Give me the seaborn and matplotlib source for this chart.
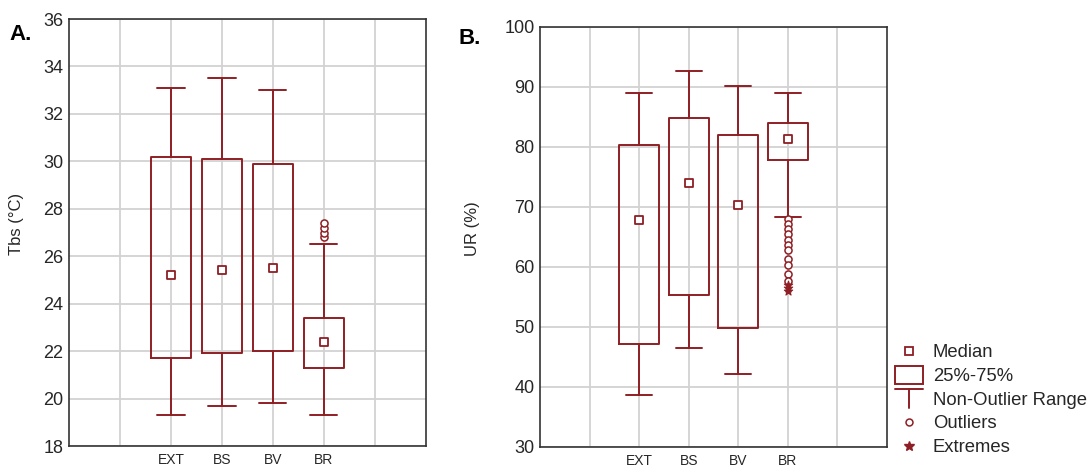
import numpy as np
import pandas as pd
import seaborn as sns
import matplotlib.pyplot as plt
from matplotlib.lines import Line2D
from matplotlib.patches import Rectangle
from matplotlib.legend_handler import HandlerBase

groups = ["EXT", "BS", "BV", "BR"]

# A. Tbs (°C) - box summaries
tbs_low = [19.3, 19.7, 19.8, 19.3]
tbs_q1 = [21.7, 21.9, 22.0, 21.3]
tbs_med = [25.2, 25.4, 25.5, 22.4]
tbs_q3 = [30.2, 30.1, 29.9, 23.4]
tbs_high = [33.1, 33.5, 33.0, 26.5]
tbs_outliers_br = [26.8, 27.0, 27.2, 27.4]
tbs_extremes_br = []

# B. UR (%)
ur_low = [38.6, 46.5, 42.2, 68.3]
ur_q1 = [47.1, 55.2, 49.8, 77.7]
ur_med = [67.7, 74.0, 70.2, 81.3]
ur_q3 = [80.3, 84.8, 82.0, 83.9]
ur_high = [88.9, 92.6, 90.1, 88.9]
ur_outliers_br = [67.9, 67.1, 66.2, 65.4, 64.5, 63.6, 62.7, 61.2, 60.2, 58.8, 57.6]
ur_extremes_br = [57.0, 56.4, 56.0]

RED = "#8e1f24"
GRID = "#d2d2d2"
TEXT = "#262626"

sns.set_theme(style="whitegrid")
plt.rcParams["font.family"] = ["Liberation Sans", "DejaVu Sans"]


def draw_panel(ax, low, q1, med, q3, high, outliers, extremes, ylim, yticks, ylabel):
    stats = [
        dict(whislo=lo, q1=a, med=m, q3=b, whishi=hi, label=g)
        for g, lo, a, m, b, hi in zip(groups, low, q1, med, q3, high)
    ]
    line = dict(color=RED, lw=1.4)
    ax.bxp(stats, positions=range(len(groups)), widths=0.8, capwidths=0.53,
           showfliers=False, boxprops=line, whiskerprops=line, capprops=line,
           medianprops=dict(visible=False), manage_ticks=False, zorder=2)

    # median squares
    med_df = pd.DataFrame({"x": range(len(groups)), "y": med})
    sns.scatterplot(data=med_df, x="x", y="y", marker="s", s=26, facecolor="white",
                    edgecolor=RED, linewidth=1.3, ax=ax, zorder=3)

    # outliers / extremes of BR
    if outliers:
        out_df = pd.DataFrame({"x": [3] * len(outliers), "y": outliers})
        sns.scatterplot(data=out_df, x="x", y="y", marker="o", s=26, facecolor="white",
                        edgecolor=RED, linewidth=1.1, ax=ax, zorder=3)
    if extremes:
        ext_df = pd.DataFrame({"x": [3] * len(extremes), "y": extremes})
        sns.scatterplot(data=ext_df, x="x", y="y", marker="*", s=40, color=RED,
                        edgecolor=RED, linewidth=0.8, ax=ax, zorder=3)

    ax.set_xlim(-2, 5)
    ax.set_ylim(*ylim)
    ax.set_yticks(yticks)
    ax.set_xticks(range(-1, 5))
    ax.set_xticklabels([""] + groups + [""])
    ax.grid(True, color=GRID, lw=1.3)
    for s in ax.spines.values():
        s.set_color("#333333")
        s.set_linewidth(1.2)
    ax.tick_params(axis="y", labelsize=13, colors=TEXT, direction="in", length=3, pad=4)
    ax.tick_params(axis="x", labelsize=10, colors=TEXT, direction="in", length=3, pad=5)
    ax.set_xlabel("")
    ax.set_ylabel(ylabel, fontsize=12, color=TEXT)


class IconHandler(HandlerBase):
    def __init__(self, kind):
        super().__init__()
        self.kind = kind

    def create_artists(self, legend, orig_handle, xdescent, ydescent, width, height, fontsize, trans):
        x0, cx, cy = -xdescent, -xdescent + width / 2, -ydescent + height / 2
        if self.kind == "median":
            arts = [Line2D([cx], [cy], marker="s", ms=5.5, mfc="white", mec=RED, mew=1.3, ls="none")]
        elif self.kind == "box":
            arts = [Rectangle((x0, cy - 6.5), width, 13, fc="none", ec=RED, lw=1.4)]
        elif self.kind == "range":
            arts = [Line2D([x0, x0 + width], [cy + 7, cy + 7], color=RED, lw=1.4),
                    Line2D([cx, cx], [cy + 7, cy - 7], color=RED, lw=1.4)]
        elif self.kind == "out":
            arts = [Line2D([cx], [cy], marker="o", ms=5, mfc="white", mec=RED, mew=1.1, ls="none")]
        else:
            arts = [Line2D([cx], [cy], marker="*", ms=7, color=RED, ls="none")]
        for a in arts:
            a.set_transform(trans)
        return arts


fig = plt.figure(figsize=(10.9, 4.68), dpi=100)
ax1 = fig.add_axes([0.0633, 0.047, 0.3275, 0.9124])
ax2 = fig.add_axes([0.4954, 0.0455, 0.3184, 0.8975])

draw_panel(ax1, tbs_low, tbs_q1, tbs_med, tbs_q3, tbs_high, tbs_outliers_br, tbs_extremes_br,
           (18, 36), range(18, 37, 2), "Tbs (°C)")
draw_panel(ax2, ur_low, ur_q1, ur_med, ur_q3, ur_high, ur_outliers_br, ur_extremes_br,
           (30, 100), range(30, 101, 10), "UR (%)")
ax1.yaxis.set_label_coords(-0.126, 0.52)
ax2.yaxis.set_label_coords(-0.173, 0.52)

fig.text(0.009, 0.915, "A.", fontsize=16, fontweight="bold", color="black")
fig.text(0.421, 0.905, "B.", fontsize=16, fontweight="bold", color="black")

kinds = ["median", "box", "range", "out", "ext"]
labels = ["Median", "25%-75%", "Non-Outlier Range", "Outliers", "Extremes"]
handles = [Line2D([], []) for _ in kinds]
fig.legend(handles, labels, loc="upper left", bbox_to_anchor=(0.821, 0.264),
           handler_map={h: IconHandler(k) for h, k in zip(handles, kinds)},
           frameon=False, fontsize=13.3, labelcolor=TEXT, handlelength=1.5,
           handletextpad=0.55, labelspacing=0.36, borderpad=0, borderaxespad=0)

fig.savefig("out.png", dpi=100)
